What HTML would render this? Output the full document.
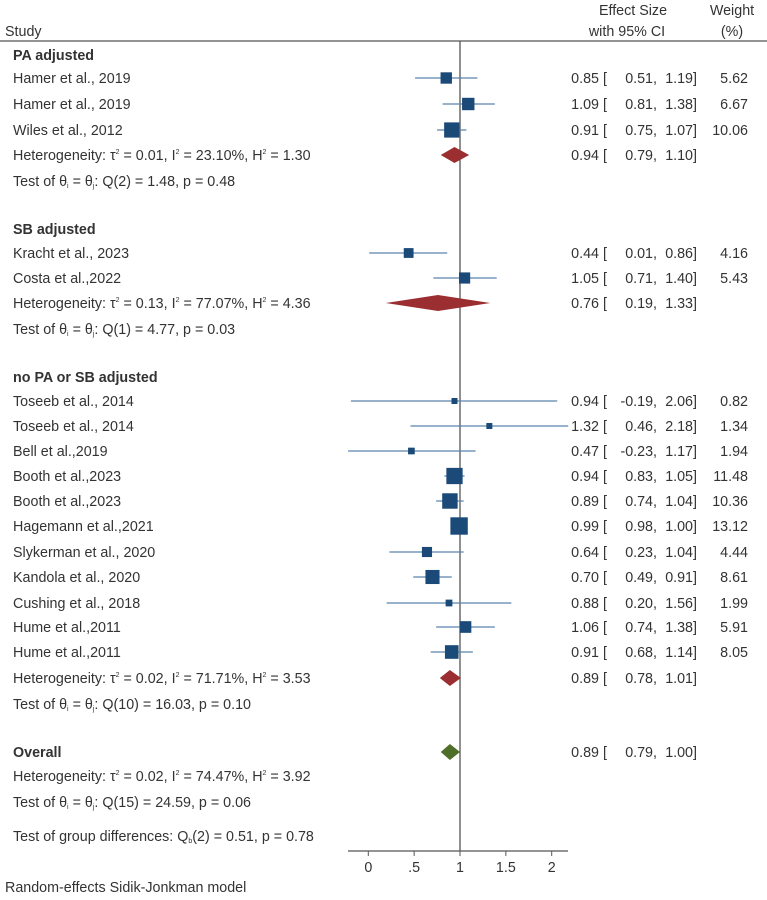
<!DOCTYPE html>
<html><head><meta charset="utf-8">
<style>
body{margin:0;background:#fff;}
svg{display:block;font-family:"Liberation Sans",Arial,sans-serif;font-size:14.3px;fill:#333;}
</style></head>
<body>
<svg id="chart" width="767" height="900" viewBox="0 0 767 900" xmlns="http://www.w3.org/2000/svg">
<text x="5" y="36">Study</text>
<text x="633" y="15" text-anchor="middle">Effect Size</text>
<text x="627" y="36" text-anchor="middle">with 95% CI</text>
<text x="732" y="15" text-anchor="middle">Weight</text>
<text x="732" y="36" text-anchor="middle">(%)</text>
<line x1="0" y1="41" x2="767" y2="41" stroke="#555" stroke-width="1.2"/>
<g id="plot"></g>
<text x="5" y="892">Random-effects Sidik-Jonkman model</text>
</svg>
<script>
// data
const studyLabels=["Hamer et al., 2019","Hamer et al., 2019","Wiles et al., 2012","Kracht et al., 2023","Costa et al.,2022","Toseeb et al., 2014","Toseeb et al., 2014","Bell et al.,2019","Booth et al.,2023","Booth et al.,2023","Hagemann et al.,2021","Slykerman et al., 2020","Kandola et al., 2020","Cushing et al., 2018","Hume et al.,2011","Hume et al.,2011"];
const studyRowY=[78,104,130,253,278,401,426,451,476,501,526,552,577,603,627,652];
const estimates=[0.85,1.09,0.91,0.44,1.05,0.94,1.32,0.47,0.94,0.89,0.99,0.64,0.70,0.88,1.06,0.91];
const lowers=[0.51,0.81,0.75,0.01,0.71,-0.19,0.46,-0.23,0.83,0.74,0.98,0.23,0.49,0.20,0.74,0.68];
const uppers=[1.19,1.38,1.07,0.86,1.40,2.06,2.18,1.17,1.05,1.04,1.00,1.04,0.91,1.56,1.38,1.14];
const weights=[5.62,6.67,10.06,4.16,5.43,0.82,1.34,1.94,11.48,10.36,13.12,4.44,8.61,1.99,5.91,8.05];
const subLabels=["PA adjusted","SB adjusted","no PA or SB adjusted"];
const subHeaderY=[55,229,377];
const subDiamondY=[155,303,678];
const subEst=[0.94,0.76,0.89];
const subLo=[0.79,0.19,0.78];
const subHi=[1.10,1.33,1.01];
const subHet=[["0.01","23.10%","1.30"],["0.13","77.07%","4.36"],["0.02","71.71%","3.53"]];
const subTest=[["2","1.48","0.48"],["1","4.77","0.03"],["10","16.03","0.10"]];
const overallEst=0.89, overallLo=0.79, overallHi=1.00;
const tickValues=[0,0.5,1,1.5,2];
const tickLabels=["0",".5","1","1.5","2"];

const NS="http://www.w3.org/2000/svg";
const g=document.getElementById('plot');
const xs=v=>368.3+v*91.7;
const axisLo=-0.22, axisHi=2.18;
function el(tag,attrs,parent){const e=document.createElementNS(NS,tag);for(const k in attrs)e.setAttribute(k,attrs[k]);(parent||g).appendChild(e);return e;}
function txt(x,y,s,anchor,parent){const t=el('text',{x:x,y:y,'text-anchor':anchor||'start'},parent);t.textContent=s;return t;}
function fmt(v){return v.toFixed(2);}
function valueRow(y,e,l,u,w){
  const a=txt(599,y,fmt(e),'end');
  const b=txt(603,y,'[');
  const c=txt(657,y,fmt(l)+',','end');
  const d=txt(697,y,fmt(u)+']','end');
  if(w!==null){const f=txt(748,y,fmt(w),'end');}
}
function hetText(y,h){
  const t=el('text',{x:13,y:y});
  
  
  t.innerHTML='Heterogeneity: τ<tspan dy="-6" font-size="7">2</tspan><tspan dy="6"> = '+h[0]+', I</tspan><tspan dy="-6" font-size="7">2</tspan><tspan dy="6"> = '+h[1]+', H</tspan><tspan dy="-6" font-size="7">2</tspan><tspan dy="6"> = '+h[2]+'</tspan>';
}
function testText(y,q){
  const t=el('text',{x:13,y:y});
  
  
  t.innerHTML='Test of θ<tspan dy="2" font-size="7">i</tspan><tspan dy="-2"> = θ</tspan><tspan dy="2" font-size="7">j</tspan><tspan dy="-2">: Q('+q[0]+') = '+q[1]+', p = '+q[2]+'</tspan>';
}
function diamond(y,e,l,u,color,name){
  const d=el('polygon',{points:xs(l)+','+y+' '+xs(e)+','+(y-8)+' '+xs(u)+','+y+' '+xs(e)+','+(y+8),fill:color});
  
  
}
const ref=el('line',{x1:xs(1),y1:41,x2:xs(1),y2:851,stroke:'#555','stroke-width':1.3});


studyLabels.forEach((s,i)=>{
  const y=studyRowY[i];
  const lab=txt(13,y+5,s);
  
  
  const ln=el('line',{x1:xs(Math.max(lowers[i],axisLo)),y1:y,x2:xs(Math.min(uppers[i],axisHi)),y2:y,stroke:'#5b84ad','stroke-width':1.3});
  
  
  const sz=Math.max(6,4.8*Math.sqrt(weights[i]));
  const r=el('rect',{x:xs(estimates[i])-sz/2,y:y-sz/2,width:sz,height:sz,fill:'#1b4a78'});
  
  
  valueRow(y+5,estimates[i],lowers[i],uppers[i],weights[i]);
});
subLabels.forEach((s,i)=>{
  const h=txt(13,subHeaderY[i]+5,s);
  h.setAttribute('font-weight','bold');
  
  
  const y=subDiamondY[i];
  hetText(y+5,subHet[i]);
  diamond(y,subEst[i],subLo[i],subHi[i],'#9a2e31','subgroup-diamond');
  valueRow(y+5,subEst[i],subLo[i],subHi[i],null);
  testText(y+31,subTest[i]);
});
const ov=txt(13,757,'Overall');
ov.setAttribute('font-weight','bold');


diamond(752,overallEst,overallLo,overallHi,'#4f6e28','overall-diamond');
valueRow(757,overallEst,overallLo,overallHi,null);
hetText(781,["0.02","74.47%","3.92"]);
testText(807,["15","24.59","0.06"]);
const gd=el('text',{x:13,y:841});


gd.innerHTML='Test of group differences: Q<tspan dy="2" font-size="7">b</tspan><tspan dy="-2">(2) = 0.51, p = 0.78</tspan>';
const ax=el('line',{x1:348,y1:851,x2:568,y2:851,stroke:'#555','stroke-width':1.2});


tickValues.forEach((v,i)=>{
  const t=el('line',{x1:xs(v),y1:851,x2:xs(v),y2:856,stroke:'#555','stroke-width':1});
  
  
  const l=txt(xs(v),872,tickLabels[i],'middle');
  
  
});
</script>
</body></html>
